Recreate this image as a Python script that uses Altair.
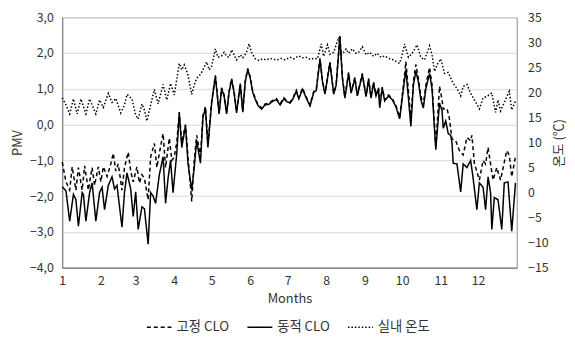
import altair as alt
import pandas as pd

series_names = ["고정 CLO", "동적 CLO", "실내 온도"]
month_starts = [0, 31, 59, 90, 120, 151, 181, 212, 243, 273, 304, 334]

# 동적 CLO (solid) - PMV
dyn_days = [0, 3, 6, 9, 11, 13, 16, 17, 19, 22, 24, 27, 30, 32, 34, 37, 40, 42, 44, 48,
            50, 52, 55, 57, 59, 61, 64, 66, 69, 71, 73, 75, 78, 81, 83, 85, 87, 89, 92, 94,
            96, 99, 101, 104, 106, 108, 111, 113, 115, 117, 120, 123, 126, 128, 130, 132, 134, 136, 138, 140,
            143, 145, 147, 149, 151, 153, 155, 157, 160, 163, 166, 169, 172, 175, 178, 180, 183, 185, 188, 190,
            193, 196, 199, 202, 204, 207, 209, 211, 215, 218, 220, 223, 225, 227, 230, 232, 235, 237, 241, 244,
            246, 248, 250, 252, 254, 255, 257, 259, 262, 265, 268, 271, 274, 276, 280, 282, 284, 286, 288, 290,
            292, 295, 297, 300, 303, 305, 306, 308, 310, 312, 313, 314, 317, 320, 322, 325, 328, 330, 333, 335,
            338, 340, 342, 344, 345, 347, 350, 353, 355, 358, 361, 364]
dyn_pmv = [-1.74, -1.85, -2.7, -1.95, -2.1, -2.84, -1.9, -1.95, -2.7, -1.9, -1.63, -2.7, -1.9, -1.75, -2.38, -1.7, -1.46, -1.8, -1.7, -2.87,
           -1.9, -1.35, -1.8, -2.57, -1.88, -2.93, -2.3, -2.35, -3.34, -1.9, -2.0, -2.2, -1.4, -0.9, -2.2, -1.5, -1.0, -1.9, -0.8, 0.33,
           -0.64, -0.03, -1.08, -1.83, -1.2, -0.44, -1.08, 0.2, 0.46, -0.64, 0.6, 1.35, 0.3, 1.0, 0.8, 0.3, 0.9, 1.26, 0.9, 0.33,
           1.12, 0.35, 1.2, 1.54, 1.3, 0.9, 0.71, 0.55, 0.43, 0.55, 0.57, 0.65, 0.7, 0.55, 0.72, 0.65, 0.6, 0.7, 0.93, 0.72,
           0.99, 0.74, 0.52, 0.9, 0.95, 1.82, 1.2, 0.85, 1.72, 0.85, 1.1, 2.45, 1.3, 0.74, 1.43, 0.88, 1.29, 0.8, 1.4, 0.78,
           1.26, 0.74, 1.16, 0.8, 1.0, 0.47, 1.02, 0.66, 0.8, 0.7, 0.5, 0.16, 1.0, 1.54, -0.05, 1.1, 1.49, 1.2, 0.7, 0.46,
           1.0, 1.43, 1.0, -0.7, 0.6, 0.4, -0.1, 0.1, -0.25, -0.3, -0.5, -1.08, -1.1, -1.88, -1.1, -1.2, -1.0, -1.5, -2.38, -1.63,
           -1.75, -2.38, -1.46, -1.9, -2.93, -2.04, -2.1, -2.93, -1.63, -1.6, -2.98, -1.63]

# 고정 CLO (dashed) - PMV
fix_days = [0, 3, 6, 8, 11, 13, 16, 18, 21, 24, 26, 29, 31, 33, 36, 39, 41, 43, 45, 48,
            50, 53, 55, 57, 60, 62, 64, 66, 69, 71, 74, 76, 78, 81, 83, 86, 88, 90, 92, 94,
            96, 99, 101, 104, 106, 108, 111, 113, 115, 117, 120, 123, 126, 128, 130, 132, 134, 136, 138, 140,
            143, 145, 147, 149, 151, 153, 155, 157, 160, 163, 166, 169, 172, 175, 178, 180, 183, 185, 188, 190,
            193, 196, 199, 202, 204, 207, 209, 211, 215, 218, 220, 223, 225, 227, 230, 232, 235, 237, 241, 244,
            246, 248, 250, 252, 254, 255, 257, 259, 262, 265, 268, 271, 274, 276, 280, 282, 284, 286, 288, 290,
            292, 295, 297, 300, 303, 305, 306, 309, 311, 313, 316, 319, 322, 325, 328, 329, 331, 335, 338, 340,
            342, 344, 346, 349, 352, 357, 359, 361, 364]
fix_pmv = [-1.05, -1.6, -1.83, -1.18, -1.83, -1.2, -1.83, -1.15, -1.83, -1.2, -1.7, -1.18, -1.6, -1.18, -1.45, -1.1, -0.8, -1.3, -1.1, -1.83,
           -1.2, -0.77, -1.3, -1.6, -1.18, -1.63, -1.4, -1.5, -2.1, -0.9, -0.53, -1.2, -0.8, -0.25, -1.2, -0.38, -1.0, -0.9, -0.5, 0.35,
           -0.5, 0.0, -0.9, -2.15, -1.0, -0.3, -0.9, 0.25, 0.5, -0.55, 0.65, 1.38, 0.33, 1.03, 0.83, 0.33, 0.93, 1.29, 0.93, 0.36,
           1.15, 0.38, 1.23, 1.57, 1.33, 0.93, 0.74, 0.58, 0.46, 0.58, 0.6, 0.68, 0.73, 0.58, 0.75, 0.68, 0.63, 0.73, 0.96, 0.75,
           1.02, 0.77, 0.55, 0.93, 0.98, 1.85, 1.23, 0.88, 1.75, 0.88, 1.13, 2.48, 1.33, 0.77, 1.46, 0.91, 1.32, 0.83, 1.43, 0.81,
           1.29, 0.77, 1.19, 0.83, 1.03, 0.53, 1.05, 0.69, 0.83, 0.73, 0.53, 0.2, 1.1, 1.76, 0.15, 1.2, 1.68, 1.3, 0.8, 0.55,
           1.1, 1.6, 1.1, -0.6, 1.07, 0.7, 0.43, 0.45, 0.16, -0.4, -0.45, -0.73, -0.85, -0.36, -0.45, -0.3, -1.08, -1.55, -1.0, -1.1,
           -0.64, -1.1, -1.55, -1.2, -1.55, -0.73, -0.85, -1.46, -0.9]

# 실내 온도 (dotted) - °C
temp_days = [0, 3, 6, 9, 12, 15, 19, 22, 27, 30, 33, 37, 40, 43, 47, 50, 52, 56, 59, 61,
             64, 66, 68, 71, 74, 77, 81, 84, 87, 90, 94, 96, 98, 101, 104, 106, 108, 111, 113, 116,
             118, 120, 123, 125, 128, 130, 132, 134, 136, 138, 140, 143, 145, 148, 150, 152, 155, 158, 161, 164,
             167, 170, 173, 176, 179, 183, 186, 190, 193, 196, 199, 202, 205, 208, 210, 213, 215, 218, 222, 224,
             226, 228, 230, 233, 236, 238, 241, 244, 247, 250, 253, 256, 259, 262, 265, 268, 271, 273, 275, 278,
             281, 285, 288, 291, 295, 297, 299, 301, 304, 307, 310, 314, 317, 320, 322, 325, 328, 331, 335, 338,
             341, 345, 348, 350, 352, 355, 359, 361, 364]
temp_c = [18.9, 17.5, 15.7, 18.7, 15.7, 18.7, 15.7, 18.7, 15.7, 18.5, 17.0, 19.8, 18.0, 18.8, 15.9, 17.5, 19.6, 18.7, 15.5, 14.7,
          17.7, 16.5, 14.3, 17.5, 20.6, 17.7, 21.6, 18.5, 21.8, 19.5, 25.8, 24.5, 25.5, 23.5, 19.6, 21.5, 22.8, 23.6, 24.5, 26.1,
          24.5, 25.2, 28.7, 27.0, 27.3, 28.0, 27.2, 27.0, 28.5, 27.5, 26.5, 27.5, 26.9, 28.0, 29.7, 28.0, 26.7, 26.4, 26.7, 26.5,
          26.8, 26.6, 26.5, 26.8, 26.5, 27.0, 26.7, 27.3, 26.9, 27.0, 26.6, 26.8, 26.7, 29.7, 27.2, 29.5, 27.6, 28.0, 31.0, 27.5,
          28.0, 28.7, 27.8, 28.7, 27.8, 28.0, 29.1, 27.5, 28.0, 27.2, 27.8, 27.0, 27.3, 26.8, 26.6, 26.2, 25.8, 27.5, 29.7, 27.0,
          27.8, 29.5, 27.0, 26.5, 29.3, 27.5, 24.2, 25.5, 26.7, 23.8, 24.0, 21.8, 20.8, 19.3, 21.2, 21.6, 19.8, 18.5, 16.7, 18.9,
          19.2, 19.9, 16.0, 18.5, 16.3, 18.0, 20.2, 16.5, 18.3]

df_pmv = pd.concat([
    pd.DataFrame({"day": fix_days, "pmv": fix_pmv, "series": series_names[0], "ord": 0}),
    pd.DataFrame({"day": dyn_days, "pmv": dyn_pmv, "series": series_names[1], "ord": 1}),
])
df_t = pd.DataFrame({"day": temp_days, "temp": temp_c, "series": series_names[2]})

FONT = "Noto Sans CJK KR"
TXT = "#333333"

dash_scale = alt.Scale(domain=series_names, range=[[4, 3], [1, 0], [1.5, 2]])
legend = alt.Legend(orient="none", legendX=85, legendY=301, direction="horizontal",
                    title=None, symbolType="stroke", symbolStrokeColor="black",
                    symbolStrokeWidth=1.5, symbolSize=640, labelFontSize=13.5,
                    labelFont=FONT, labelColor=TXT, columnPadding=14, labelOffset=4)

x_enc = alt.X("day:Q", scale=alt.Scale(domain=[0, 365], nice=False, zero=False),
              axis=alt.Axis(values=month_starts,
                            labelExpr="indexof([0,31,59,90,120,151,181,212,243,273,304,334], datum.value) + 1",
                            title="Months", grid=False, ticks=False, domainColor="#666666",
                            labelPadding=7, titlePadding=6, labelFlush=False))

pmv_layer = alt.Chart(df_pmv).mark_line(color="black", strokeWidth=1.5).encode(
    x=x_enc,
    y=alt.Y("pmv:Q", scale=alt.Scale(domain=[-4, 3], nice=False, zero=False),
            axis=alt.Axis(values=[-4, -3, -2, -1, 0, 1, 2, 3],
                          labelExpr="replace(format(datum.value, '.1f'), '.', ',')",
                          title="PMV", grid=True, gridColor="#d9d9d9", ticks=False,
                          domainColor="#808080", labelPadding=9, titlePadding=5)),
    strokeDash=alt.StrokeDash("series:N", scale=dash_scale, legend=legend),
    detail="series:N",
    order="ord:Q",
)

temp_layer = alt.Chart(df_t).mark_line(color="black", strokeWidth=1.5).encode(
    x=alt.X("day:Q"),
    y=alt.Y("temp:Q", scale=alt.Scale(domain=[-15, 35], nice=False, zero=False),
            axis=alt.Axis(orient="right", values=list(range(-15, 40, 5)), format="d",
                          title="온도 (℃)", titleAngle=270, titleBaseline="top",
                          grid=False, ticks=False,
                          domain=False, labelPadding=11, titlePadding=5)),
    strokeDash=alt.StrokeDash("series:N", scale=dash_scale, legend=legend),
)

chart = alt.layer(temp_layer, pmv_layer).resolve_scale(y="independent").properties(
    width=461, height=254,
    autosize=alt.AutoSizeParams(type="none"),
    padding={"left": 55, "top": 7, "right": 51, "bottom": 77},
).configure_view(stroke="#8c8c8c", strokeWidth=1).configure_axis(
    labelFont=FONT, titleFont=FONT, labelFontSize=12.5, titleFontSize=13,
    labelColor=TXT, titleColor=TXT, titleFontWeight="normal",
).configure_legend(labelFont=FONT)

chart.save("out.html", embed_options={"renderer": "svg", "actions": False})
